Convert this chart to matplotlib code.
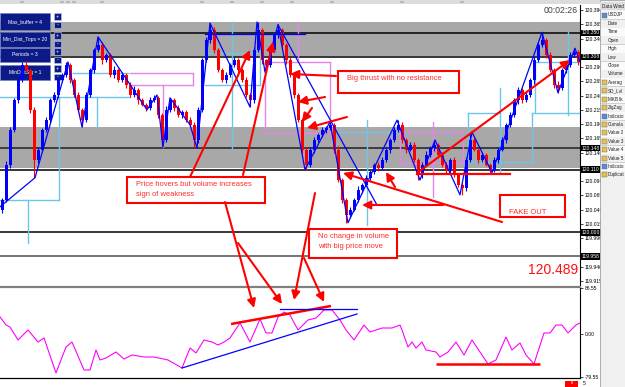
import matplotlib
matplotlib.use("Agg")
import matplotlib.pyplot as plt
import matplotlib.transforms as mtransforms
from matplotlib.patches import Rectangle, FancyArrowPatch
import numpy as np

plt.rcParams['font.family'] = ['Liberation Sans', 'DejaVu Sans']

# ---------------- data ----------------
first_open = 120.040
closes = [
    120.057, 120.119, 120.180, 120.232, 120.267, 120.294, 120.285, 120.215, 120.127, 120.145,
    120.180, 120.197, 120.232, 120.241, 120.267, 120.276, 120.294, 120.267, 120.241, 120.215,
    120.197, 120.241, 120.285, 120.320, 120.329, 120.302, 120.311, 120.276, 120.285, 120.267,
    120.276, 120.259, 120.241, 120.250, 120.232, 120.224, 120.218, 120.232, 120.236, 120.206,
    120.162, 120.215, 120.232, 120.218, 120.206, 120.211, 120.197, 120.189, 120.162, 120.215,
    120.302, 120.337, 120.355, 120.320, 120.285, 120.267, 120.276, 120.294, 120.302, 120.285,
    120.267, 120.241, 120.232, 120.320, 120.355, 120.302, 120.294, 120.320, 120.346, 120.355,
    120.329, 120.302, 120.276, 120.241, 120.197, 120.145, 120.119, 120.145, 120.162, 120.171,
    120.180, 120.183, 120.189, 120.145, 120.092, 120.057, 120.031, 120.040, 120.057, 120.075,
    120.084, 120.096, 120.106, 120.119, 120.113, 120.127, 120.145, 120.162, 120.180, 120.189,
    120.162, 120.145, 120.154, 120.127, 120.101, 120.119, 120.136, 120.148, 120.154, 120.136,
    120.119, 120.110, 120.127, 120.101, 120.084, 120.078, 120.127, 120.162, 120.145, 120.127,
    120.136, 120.119, 120.110, 120.127, 120.145, 120.162, 120.189, 120.206, 120.232, 120.250,
    120.232, 120.241, 120.267, 120.302, 120.329, 120.337, 120.311, 120.285, 120.259, 120.253,
    120.285, 120.294, 120.311, 120.316, 120.299]
up_wick = [
    4, 6, 5, 3, 6, 4, 7, 3, 5, 4,
    3, 6, 4, 5, 3, 4, 5, 3, 4, 6,
    3, 5, 4, 3, 14, 5, 4, 3, 6, 4,
    5, 3, 4, 6, 3, 4, 3, 5, 5, 4,
    3, 6, 4, 3, 5, 4, 3, 6, 4, 5,
    4, 6, 12, 5, 3, 4, 6, 3, 5, 4,
    3, 5, 4, 6, 14, 4, 3, 5, 4, 9,
    4, 3, 5, 6, 4, 3, 5, 4, 6, 3,
    5, 4, 5, 3, 6, 4, 3, 5, 4, 6,
    3, 5, 4, 3, 5, 6, 4, 3, 5, 8,
    4, 3, 5, 4, 3, 5, 6, 4, 8, 3,
    5, 4, 3, 6, 4, 3, 5, 14, 4, 3,
    5, 4, 3, 6, 4, 5, 3, 6, 4, 5,
    4, 6, 3, 5, 4, 14, 4, 5, 3, 6,
    4, 3, 5, 7, 4]
dn_wick = [
    5, 4, 6, 3, 5, 4, 3, 6, 31, 5,
    4, 3, 5, 4, 6, 3, 4, 5, 3, 4,
    12, 4, 3, 5, 4, 6, 3, 4, 5, 3,
    4, 5, 3, 4, 6, 3, 5, 4, 3, 6,
    12, 4, 3, 5, 4, 6, 3, 4, 14, 5,
    3, 4, 5, 6, 3, 4, 5, 3, 4, 6,
    4, 3, 12, 5, 4, 6, 13, 4, 3, 5,
    4, 6, 3, 5, 4, 6, 9, 4, 5, 3,
    4, 6, 3, 5, 4, 6, 14, 5, 3, 4,
    6, 3, 5, 4, 6, 3, 4, 5, 3, 4,
    5, 6, 3, 4, 9, 5, 3, 4, 6, 3,
    4, 5, 6, 3, 4, 12, 5, 4, 3, 6,
    4, 3, 5, 4, 6, 3, 5, 4, 3, 6,
    5, 3, 4, 6, 3, 4, 5, 3, 6, 8,
    3, 5, 4, 3, 5]

zigzag_x = [0, 35, 68, 82, 98, 147, 157, 163, 170, 190, 197, 210, 250, 257, 265, 278,
            305, 330, 348, 397, 420, 435, 460, 472, 492, 542, 558, 575, 580]
zigzag_p = [120.045, 120.096, 120.299, 120.185, 120.343, 120.215, 120.241, 120.150, 120.236,
            120.189, 120.148, 120.367, 120.220, 120.369, 120.281, 120.364, 120.110, 120.194,
            120.017, 120.197, 120.092, 120.162, 120.066, 120.176, 120.105, 120.351, 120.245,
            120.323, 120.299]

bands = [(120.369, 120.310), (120.185, 120.113)]
levels = [120.350, 120.308, 120.148, 120.110, 120.000, 119.958]
level_colors = ['black', 'black', '#202020', 'black', 'black', '#505050']

sd_lines = [  # light blue level boxes (x0, p0, x1, p1)
    (0, 120.238, 130, 120.238), (97, 120.238, 97, 120.185), (73, 120.280, 128, 120.280),
    (59, 120.238, 59, 120.057), (0, 120.057, 59, 120.057), (28, 120.057, 28, 119.982),
    (232, 120.369, 232, 120.148), (205, 120.315, 260, 120.315), (205, 120.259, 260, 120.259),
    (260, 120.315, 260, 120.259), (367, 120.197, 367, 120.013), (330, 120.176, 397, 120.176),
    (468, 120.209, 468, 120.124), (468, 120.209, 500, 120.209), (500, 120.253, 500, 120.104),
    (468, 120.124, 532, 120.124), (532, 120.209, 532, 120.124), (532, 120.209, 580, 120.209),
    (535, 120.299, 535, 120.211), (535, 120.299, 577, 120.299), (568, 120.351, 568, 120.206)]
pink_lines = [
    (130, 120.280, 193, 120.280), (130, 120.259, 193, 120.259), (193, 120.280, 193, 120.259),
    (163, 120.259, 163, 120.150), (298, 120.369, 298, 120.302), (265, 120.299, 330, 120.299),
    (265, 120.174, 330, 120.174), (265, 120.299, 265, 120.174), (330, 120.299, 330, 120.174),
    (400, 120.176, 463, 120.176), (400, 120.122, 463, 120.122), (400, 120.176, 400, 120.122),
    (463, 120.176, 463, 120.122), (433, 120.194, 433, 120.062)]
blue_trend = [(278, 120.364, 377, 120.048), (205, 120.348, 305, 120.348)]

price_ticks = [120.390, 120.365, 120.340, 120.290, 120.265, 120.240, 120.215, 120.190,
               120.165, 120.140, 120.090, 120.065, 120.040, 120.015, 119.990, 119.940, 119.915]

ind_x = [0, 6, 10, 18, 28, 38, 44, 56, 66, 72, 84, 90, 96, 100, 106, 116, 124, 132, 144, 154,
         168, 182, 190, 196, 204, 212, 218, 224, 230, 240, 250, 260, 266, 272, 278, 284, 290,
         298, 308, 316, 324, 332, 340, 346, 354, 364, 370, 376, 382, 392, 400, 402, 408, 412,
         416, 422, 426, 436, 440, 448, 456, 464, 472, 480, 488, 496, 506, 512, 520, 526, 534,
         544, 550, 556, 562, 568, 576, 580]
ind_v = [31.8, 16.8, 13.1, -11.2, 7.5, -15, -7.5, -72.9, -24.3, -15, -67.3, -67.3, -29.9,
         -48.6, -44.9, -33.7, -46.8, -39.3, -43, -43, -48.6, -63.6, -26.2, -35.5, -11.2, -15,
         -20.6, -15, -7.5, 20.6, -15, 28, 1.9, 1.9, 31.8, 41.1, 35.5, 7.5, 26.2, 29.9, 44.9,
         44.9, 26.2, 7.5, -11.2, 16.8, 3.7, 7.5, 11.2, 11.2, 16.8, 7.5, -24.3, -15, -26.2, -15,
         -29.9, -33.7, -43, -33.7, -15, -39.3, -11.2, -33.7, -56, -48.6, -5.6, -29.9, -16.8,
         -39.3, -56, 1.9, 1.9, 16.8, 16.8, 1.9, 16.8, 20.6]
ind_ticks = [86.55, 0.0, -79.55]
ind_red_lines = [(231, 18.7, 331, 52.4), (436, -56.1, 540, -56.1)]
ind_blue_lines = [(280, 46.8, 357, 46.8), (182, -63.6, 357, 37.4)]

buttons = ["Max_buffer = 4", "Min_Dist_Tops = 20", "Periods = 3", "MinDistSig = 1"]
data_title = "Data Wind"
data_rows = [("USDJP", "chart"), ("Date", None), ("Time", None), ("Open", None),
             ("High", None), ("Low", None), ("Close", None), ("Volume", None),
             ("Averag", "ind"), ("SD_Lvl", "ind"), ("MKB lk", "ind"), ("ZigZag", "ind"),
             ("Indicato", "win"), ("Cumula", "ind"), ("Value 2", "ind"), ("Value 3", "ind"),
             ("Value 4", "ind"), ("Value 5", "ind"), ("Indicato", "win"), ("Duplicat", "ind")]

notes = [  # (box x0, y0, x1, y1, text lines) in screen pixels
    (127, 177, 265, 203, ["Price hovers but volume increases", "sign of weakness"]),
    (309, 229, 397, 258, ["No change in volume", "with big price move"]),
    (338, 71, 459, 93, ["Big thrust with no resistance"]),
    (500, 195, 565, 217, ["", "FAKE OUT"])]
arrows = [((190, 177), (250, 50)), ((243, 175), (273, 42)), ((336, 76), (290, 74)),
          ((325, 97), (298, 102)), ((312, 108), (302, 122)), ((347, 117), (307, 128)),
          ((502, 222), (343, 173)), ((395, 187), (386, 172)), ((443, 205), (362, 205)),
          ((417, 173), (570, 60)), ((225, 202), (254, 308)), ((238, 243), (282, 304)),
          ((315, 193), (294, 300)), ((304, 258), (324, 302))]
support_line = ((417, 174), (510, 174))

# ---------------- figure ----------------
W, H = 625, 387
fig = plt.figure(figsize=(W / 100, H / 100), dpi=100)
fig.patch.set_facecolor('white')
PX = mtransforms.Affine2D().scale(1 / W, -1 / H).translate(0, 1) + fig.transFigure

ax = fig.add_axes([0, (H - 285) / H, 580 / W, 280 / H])
ind = fig.add_axes([0, (H - 378) / H, 580 / W, 91 / H])

# bands and level lines
for top, bot in bands:
    ax.axhspan(bot, top, color='#a8a8a8', lw=0, zorder=0.5)
for lv, lc in zip(levels, level_colors):
    ax.axhline(lv, color=lc, lw=1.1, zorder=1)

# buttons (under the chart objects)
for k, label in enumerate(buttons):
    y0 = [13, 32, 48, 65][k]
    h = [17, 15, 14, 15][k]
    ax.add_patch(Rectangle((0, y0), 50, h, transform=PX, fc='#0c1a86', ec='#7080c8',
                           lw=0.5, zorder=1.5, clip_on=False))
    ax.text(25, y0 + h / 2, label, transform=PX, color='white', fontsize=3.6,
            ha='center', va='center', zorder=1.6)
    for j, sym in enumerate(['+', '-']):
        yy = y0 + j * 8.5
        ax.add_patch(Rectangle((54, yy), 7, 6.5, transform=PX, fc='#0c1a86', ec='#c0c8f0',
                               lw=0.4, zorder=1.5, clip_on=False))
        ax.text(57.5, yy + 3.2, sym, transform=PX, color='white', fontsize=4,
                ha='center', va='center', zorder=1.6)

for x0, p0, x1, p1 in sd_lines:
    ax.plot([x0, x1], [p0, p1], color='#6cc6e8', lw=1.0, zorder=2)
for x0, p0, x1, p1 in pink_lines:
    ax.plot([x0, x1], [p0, p1], color='#e884e8', lw=1.0, zorder=2)

# candles
n = len(closes)
opens = [first_open] + closes[:-1]
xs = np.arange(n) * 4 + 2
o = np.array(opens)
c = np.array(closes)
hi = np.maximum(o, c) + np.array(up_wick) / 1000
lo = np.minimum(o, c) - np.array(dn_wick) / 1000
cols = np.where(c >= o, '#0000ff', '#ff0000')
ax.vlines(xs, lo, hi, colors=cols, lw=0.8, zorder=3)
body = np.where(np.abs(c - o) < 0.001, 0.001, c - o)
ax.bar(xs, body, bottom=o, width=3.0, color=cols, lw=0, zorder=3)

ax.plot(zigzag_x, zigzag_p, color='#0000ff', lw=0.9, zorder=4)
for x0, p0, x1, p1 in blue_trend:
    ax.plot([x0, x1], [p0, p1], color='#0000ff', lw=0.9, zorder=4)

ax.set_xlim(0, 580)
ax.set_ylim(119.9079, 120.3988)
ax.set_xticks([])
ax.yaxis.tick_right()
ax.set_yticks(price_ticks)
ax.set_yticklabels([f"{v:.3f}" for v in price_ticks], fontsize=3.6)
ax.tick_params(axis='y', length=2, width=0.5, pad=1.5, colors='black')
for s in ['left', 'top', 'bottom']:
    ax.spines[s].set_visible(False)
ax.spines['right'].set_linewidth(0.8)
for lv in levels:
    ax.text(581.5, lv, f"{lv:.3f}", fontsize=3.6, color='white', va='center', ha='left',
            bbox=dict(boxstyle='square,pad=0.15', fc='black', ec='none'), clip_on=False,
            zorder=10)
ax.text(578, 120.390 - 0.0005, "00:02:26", fontsize=6.3, color='#404040', ha='right',
        va='center')
ax.text(578, 119.9335, "120.489", fontsize=10, color='#ff1010', ha='right', va='center')

# indicator
ind.plot(ind_x, ind_v, color='#ff00ff', lw=0.8, zorder=3)
for x0, v0, x1, v1 in ind_red_lines:
    ind.plot([x0, x1], [v0, v1], color='#ff0000', lw=1.8, zorder=4, solid_capstyle='butt')
for x0, v0, x1, v1 in ind_blue_lines:
    ind.plot([x0, x1], [v0, v1], color='#0000ff', lw=0.9, zorder=4)
ind.set_xlim(0, 580)
ind.set_ylim(-82.3, 87.9)
ind.set_xticks([])
ind.yaxis.tick_right()
ind.set_yticks(ind_ticks)
ind.set_yticklabels([f"{v:.2f}" for v in ind_ticks], fontsize=3.6)
ind.tick_params(axis='y', length=2, width=0.5, pad=1.5)
ind.spines['left'].set_visible(False)
ind.spines['top'].set_color('#808080')
ind.spines['top'].set_linewidth(1.6)
ind.spines['bottom'].set_linewidth(0.9)
ind.spines['right'].set_linewidth(0.8)

# top toolbar strip
fig.add_artist(Rectangle((0, 0), 600, 3.5, transform=PX, fc='#dcdcdc', ec='none', zorder=0.5))
for xi in [20, 60, 66, 72, 100, 200, 230, 260, 290, 330, 400, 460]:
    fig.add_artist(Rectangle((xi, 0.5), 4, 2.5, transform=PX, fc='#b8b8b8', ec='none',
                             zorder=0.6))

# data window
fig.add_artist(Rectangle((600, 0), 25, H, transform=PX, fc='#f0f0f0', ec='#a0a0a0',
                         lw=0.6, zorder=2))
fig.add_artist(Rectangle((600, 2), 25, 8, transform=PX, fc='#dcdcdc', ec='none', zorder=2.1))
fig.text(601.5 / W, 1 - 6 / H, data_title, fontsize=3.3, color='#202020', va='center',
         zorder=3)
for k, (label, kind) in enumerate(data_rows):
    yc = 15 + k * 8.42
    if k % 2 == 0:
        fig.add_artist(Rectangle((600.5, yc - 4.2), 24.5, 8.4, transform=PX, fc='#fafafa',
                                 ec='none', zorder=2.1))
    fig.add_artist(Rectangle((600.5, yc + 4.1), 24.5, 0.4, transform=PX, fc='#d0d0d0',
                             ec='none', zorder=2.2))
    if kind is not None:
        fc = {'chart': '#5a8ad8', 'win': '#5a8ad8', 'ind': '#e8c050'}[kind]
        fig.add_artist(Rectangle((601.5, yc - 2.5), 5, 5, transform=PX, fc=fc,
                                 ec='#606060', lw=0.3, zorder=2.5))
    fig.text(608 / W, 1 - yc / H, label, fontsize=3.3, color='#202020', va='center',
             zorder=3)

# bottom red marker and tiny label
fig.add_artist(Rectangle((565, 380.5), 13, 6, transform=PX, fc='#ff0000', ec='none',
                         zorder=2))
fig.text(571.5 / W, 1 - 383.5 / H, "8", fontsize=3, color='white', ha='center', va='center',
         zorder=3)
fig.text(583 / W, 1 - 383.5 / H, "5", fontsize=3.6, color='black', ha='left', va='center',
         zorder=3)

# annotations (red boxes and arrows)
for x0, y0, x1, y1, lines in notes:
    fig.add_artist(Rectangle((x0, y0), x1 - x0, y1 - y0, transform=PX, fc='white',
                             ec='#ff0000', lw=1.5, zorder=5))
    for j, t in enumerate(lines):
        fig.text((x0 + 9) / W, 1 - (y0 + 7 + j * 10) / H, t, fontsize=5.4, color='#ff2a2a',
                 va='center', ha='left', zorder=6)
for (xa, ya), (xb, yb) in arrows:
    fig.add_artist(FancyArrowPatch((xa, ya), (xb, yb), transform=PX,
                                   arrowstyle='-|>,head_length=0.5,head_width=0.25',
                                   mutation_scale=10, color='#ff0000', lw=1.5,
                                   shrinkA=0, shrinkB=0, zorder=7))
(sx0, sy0), (sx1, sy1) = support_line
fig.add_artist(plt.Line2D([sx0, sx1], [sy0, sy1], transform=PX, color='#ff0000', lw=1.6,
                          zorder=7))

fig.savefig("out.png", dpi=100)
